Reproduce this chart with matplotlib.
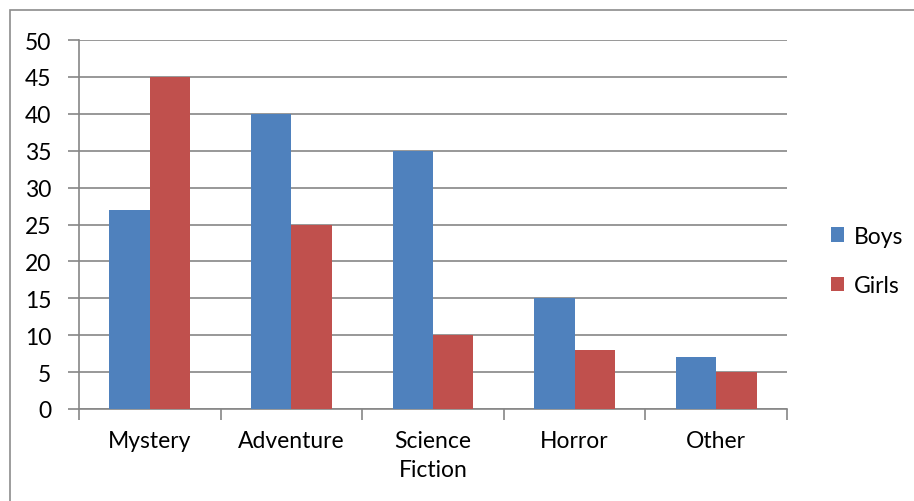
import matplotlib
matplotlib.use("Agg")
import matplotlib.pyplot as plt
import numpy as np
from matplotlib.patches import Rectangle

categories = ["Mystery", "Adventure", "Science\nFiction", "Horror", "Other"]
boys = [27, 40, 35, 15, 7]
girls = [45, 25, 10, 8, 5]
yticks = [0, 5, 10, 15, 20, 25, 30, 35, 40, 45, 50]

plt.rcParams['font.family'] = ['Lato', 'DejaVu Sans']

W, H = 914, 502
fig = plt.figure(figsize=(W/100, H/100), dpi=100)
ax = fig.add_axes([79/W, 1-410/H, (787-79)/W, (410-41)/H])

# chart border
fig.patches.append(Rectangle((10/W, -0.1), 1.2, 1 - 11/H + 0.1, transform=fig.transFigure,
                             fill=False, edgecolor='#8c8c8c', linewidth=1.2))

x = np.arange(len(categories))
bw = 1/3.5
ax.bar(x - bw/2, boys, bw, color='#4F81BD', label='Boys', zorder=3)
ax.bar(x + bw/2, girls, bw, color='#C0504D', label='Girls', zorder=3)

FS = 16.5
ax.set_xlim(-0.5, len(categories) - 0.5)
ax.set_ylim(0, 50)
ax.set_yticks(yticks)
ax.yaxis.grid(True, color='#868686', linewidth=1.2, zorder=0)
for sp in ['top', 'right']:
    ax.spines[sp].set_visible(False)
for sp in ['left', 'bottom']:
    ax.spines[sp].set_color('#868686')
    ax.spines[sp].set_linewidth(1.2)
ax.set_xticks(np.arange(len(categories) + 1) - 0.5, minor=False)
ax.set_xticklabels([])
ax.set_xticks(x, minor=True)
ax.set_xticklabels(categories, minor=True, fontsize=FS, linespacing=1.5)
ax.tick_params(axis='x', which='minor', length=0, pad=15)
ax.tick_params(axis='x', which='major', length=8, color='#868686', width=1.2)
ax.tick_params(axis='y', length=8, color='#868686', width=1.2, labelsize=FS, pad=12)

leg = fig.legend(loc='upper left', bbox_to_anchor=(810/W, 1-206/H), frameon=False,
                 fontsize=FS, handlelength=0.6, handleheight=0.6, handletextpad=0.4,
                 labelspacing=1.25)

fig.savefig("out.png", dpi=100)
